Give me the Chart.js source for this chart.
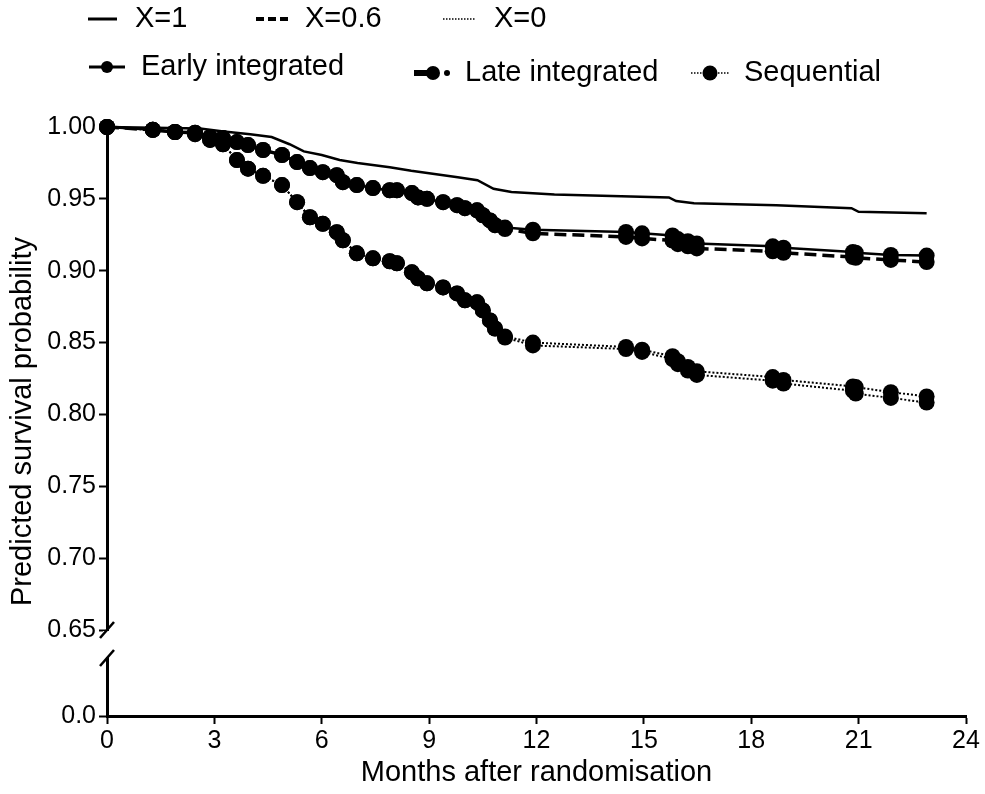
<!DOCTYPE html>
<html>
<head>
<meta charset="utf-8">
<script src="https://cdn.jsdelivr.net/npm/chart.js@4.4.1/dist/chart.umd.min.js"></script>
<style>
  html, body { margin: 0; padding: 0; background: #fff; }
  canvas { display: block; }
</style>
</head>
<body>
<canvas id="survChart" width="985" height="794"></canvas>
<script>
// X=1 curve (no markers)
const topMonths = [0, 1.3, 2.6, 3.2, 4.0, 4.6, 5.1, 5.5, 6.0, 6.5, 7.0, 7.9, 8.5, 9.8, 10.35, 10.8, 11.3, 12.5, 15.7, 15.9, 16.4, 18.7, 20.8, 21.0, 22.9];
const topSurv = [1.0, 0.9995, 0.999, 0.997, 0.995, 0.993, 0.988, 0.983, 0.9805, 0.977, 0.975, 0.972, 0.9695, 0.965, 0.963, 0.957, 0.9547, 0.953, 0.951, 0.9485, 0.947, 0.9455, 0.9435, 0.941, 0.940];

// times of the marked points, shared by the four marked curves
const months = [0, 1.28, 1.9, 2.46, 2.88, 3.24, 3.63, 3.94, 4.36, 4.89, 5.31, 5.67, 6.03, 6.42, 6.59, 6.98, 7.43, 7.9, 8.1, 8.52, 8.69, 8.94, 9.39, 9.78, 10.0, 10.34, 10.5, 10.7, 10.84, 11.12, 11.9, 14.5, 14.95, 15.8, 15.95, 16.23, 16.48, 18.6, 18.9, 20.84, 20.92, 21.9, 22.9];
const earlySurv = [1.0, 0.998, 0.9965, 0.996, 0.993, 0.9923, 0.9895, 0.9874, 0.984, 0.9805, 0.9756, 0.9714, 0.9686, 0.9665, 0.9616, 0.9596, 0.9575, 0.956, 0.956, 0.954, 0.951, 0.950, 0.9477, 0.9456, 0.9435, 0.942, 0.9386, 0.935, 0.9317, 0.930, 0.9285, 0.927, 0.926, 0.9245, 0.922, 0.9205, 0.919, 0.917, 0.916, 0.913, 0.9125, 0.911, 0.9105];
const lateSurv = [1.0, 0.998, 0.9965, 0.996, 0.993, 0.9923, 0.9895, 0.9874, 0.984, 0.9805, 0.9756, 0.9714, 0.9686, 0.9665, 0.9616, 0.9596, 0.9575, 0.956, 0.956, 0.954, 0.951, 0.950, 0.9477, 0.9456, 0.9435, 0.942, 0.9386, 0.935, 0.9317, 0.929, 0.926, 0.9235, 0.9225, 0.921, 0.9185, 0.917, 0.9155, 0.9135, 0.9125, 0.9095, 0.909, 0.9075, 0.906];
const seqSurvA = [1.0, 0.998, 0.9965, 0.995, 0.991, 0.988, 0.977, 0.971, 0.966, 0.9596, 0.9477, 0.9372, 0.9326, 0.9268, 0.9212, 0.9121, 0.9086, 0.9066, 0.9052, 0.8989, 0.8947, 0.8912, 0.8884, 0.8842, 0.8794, 0.878, 0.8724, 0.8654, 0.8598, 0.8543, 0.850, 0.847, 0.845, 0.8405, 0.837, 0.833, 0.830, 0.826, 0.824, 0.8195, 0.819, 0.8155, 0.8125];
const seqSurvB = [1.0, 0.998, 0.9965, 0.995, 0.991, 0.988, 0.977, 0.971, 0.966, 0.9596, 0.9477, 0.9372, 0.9326, 0.9268, 0.9212, 0.9121, 0.9086, 0.9066, 0.9052, 0.8989, 0.8947, 0.8912, 0.8884, 0.8842, 0.8794, 0.878, 0.8724, 0.8654, 0.8598, 0.8535, 0.848, 0.8455, 0.8435, 0.8385, 0.835, 0.8305, 0.8275, 0.8235, 0.8215, 0.8165, 0.8145, 0.8115, 0.8083];

const xTicks = [0, 3, 6, 9, 12, 15, 18, 21, 24];
const yTicks = [0.65, 0.70, 0.75, 0.80, 0.85, 0.90, 0.95, 1.00];
const yLowTicks = [0.0];

const FONT = "'Liberation Sans', Arial, sans-serif";

function pts(xs, ys) {
    return xs.map((x, i) => ({ x: x, y: ys[i] }));
}

// legend, y title and axis break, drawn on top
const extras = {
    id: 'extras',
    afterDraw(chart) {
        const ctx = chart.ctx;
        const xAxis = chart.scales.x.getPixelForValue(0);
        const yBreakTop = chart.scales.y.bottom;
        const yBreakBot = yBreakTop + 28;
        ctx.save();
        // gap in the axis
        ctx.fillStyle = '#fff';
        ctx.fillRect(xAxis - 4, yBreakTop + 1, 8, yBreakBot - yBreakTop - 2);
        ctx.strokeStyle = '#000';
        ctx.lineWidth = 2.5;
        [yBreakTop, yBreakBot].forEach(yy => {
            ctx.beginPath();
            ctx.moveTo(xAxis - 7, yy + 8);
            ctx.lineTo(xAxis + 7, yy - 8);
            ctx.stroke();
        });

        // y axis title, centred on the whole (broken) axis
        ctx.fillStyle = '#000';
        ctx.font = '29px ' + FONT;
        ctx.textAlign = 'center';
        ctx.textBaseline = 'middle';
        const area = chart.chartArea;
        ctx.save();
        ctx.translate(23, (area.top + area.bottom) / 2);
        ctx.rotate(-Math.PI / 2);
        ctx.fillText('Predicted survival probability', 0, 0);
        ctx.restore();

        // legend
        ctx.textAlign = 'left';
        function seg(x1, x2, y, w, dash) {
            ctx.beginPath();
            ctx.lineWidth = w;
            ctx.setLineDash(dash);
            ctx.moveTo(x1, y);
            ctx.lineTo(x2, y);
            ctx.stroke();
            ctx.setLineDash([]);
        }
        function dot(x, y, r) {
            ctx.beginPath();
            ctx.arc(x, y, r, 0, Math.PI * 2);
            ctx.fill();
        }
        const r1 = 19;
        seg(88, 117, r1, 3, []);
        ctx.fillText('X=1', 135, r1);
        seg(256, 289, r1, 4, [8, 4]);
        ctx.fillText('X=0.6', 305, r1);
        seg(443, 476, r1, 1.5, [1.5, 1.5]);
        ctx.fillText('X=0', 494, r1);

        const r2a = 67, r2b = 73;
        seg(89, 125, r2a, 3, []);
        dot(107, r2a, 6);
        ctx.fillText('Early integrated', 141, r2a);
        seg(414, 428, r2b, 6, []);
        dot(433, r2b, 7);
        dot(447, r2b, 3);
        ctx.fillText('Late integrated', 465, r2b);
        seg(691, 729, r2b, 1.5, [1.5, 1.5]);
        dot(710, r2b, 7.5);
        ctx.fillText('Sequential', 744, r2b);
        ctx.restore();
    }
};

const tickGrid = {
    display: true,
    drawOnChartArea: false,
    drawTicks: true,
    tickLength: 8,
    tickWidth: 2,
    tickColor: '#000'
};

const ctx = document.getElementById('survChart');
new Chart(ctx, {
    type: 'line',
    data: {
        datasets: [
            {
                label: 'X=1',
                data: pts(topMonths, topSurv),
                borderColor: '#000',
                borderWidth: 2.5,
                pointRadius: 0,
                yAxisID: 'y'
            },
            {
                label: 'Late integrated',
                data: pts(months, lateSurv),
                borderColor: '#000',
                borderWidth: 3.5,
                borderDash: [12, 6],
                pointRadius: 8,
                pointBackgroundColor: '#000',
                pointBorderWidth: 0,
                yAxisID: 'y'
            },
            {
                label: 'Early integrated',
                data: pts(months, earlySurv),
                borderColor: '#000',
                borderWidth: 2.5,
                pointRadius: 8,
                pointBackgroundColor: '#000',
                pointBorderWidth: 0,
                yAxisID: 'y'
            },
            {
                label: 'Sequential X=0.6',
                data: pts(months, seqSurvA),
                borderColor: '#000',
                borderWidth: 2,
                borderDash: [2, 2],
                pointRadius: 8,
                pointBackgroundColor: '#000',
                pointBorderWidth: 0,
                yAxisID: 'y'
            },
            {
                label: 'Sequential X=0',
                data: pts(months, seqSurvB),
                borderColor: '#000',
                borderWidth: 2,
                borderDash: [2, 2],
                pointRadius: 8,
                pointBackgroundColor: '#000',
                pointBorderWidth: 0,
                yAxisID: 'y'
            }
        ]
    },
    options: {
        responsive: false,
        animation: false,
        devicePixelRatio: 1,
        clip: false,
        layout: { padding: { top: 127, right: 19, left: 0, bottom: 0 } },
        plugins: {
            legend: { display: false },
            tooltip: { enabled: false }
        },
        elements: { line: { tension: 0 } },
        scales: {
            x: {
                type: 'linear',
                min: 0,
                max: 24,
                afterBuildTicks: (scale) => { scale.ticks = xTicks.map(v => ({ value: v })); },
                ticks: { color: '#000', font: { family: FONT, size: 25 }, padding: 2, maxRotation: 0 },
                grid: tickGrid,
                border: { display: true, color: '#000', width: 3 },
                title: {
                    display: true,
                    text: 'Months after randomisation',
                    color: '#000',
                    font: { family: FONT, size: 29 },
                    padding: { top: 0, bottom: 4 }
                },
                afterFit: (scale) => { scale.height = 78; }
            },
            // lower piece of the broken axis (declared first so it sits below)
            y0: {
                type: 'linear',
                position: 'left',
                stack: 'left',
                stackWeight: 86,
                min: 0,
                max: 0.06,
                afterBuildTicks: (scale) => { scale.ticks = yLowTicks.map(v => ({ value: v })); },
                ticks: {
                    color: '#000',
                    font: { family: FONT, size: 25 },
                    padding: 3,
                    callback: (v) => Number(v).toFixed(1)
                },
                grid: tickGrid,
                border: { display: true, color: '#000', width: 3 },
                afterFit: (scale) => { scale.width = 107; }
            },
            y: {
                type: 'linear',
                position: 'left',
                stack: 'left',
                stackWeight: 503,
                min: 0.65,
                max: 1.0,
                afterBuildTicks: (scale) => { scale.ticks = yTicks.map(v => ({ value: v })); },
                ticks: {
                    color: '#000',
                    font: { family: FONT, size: 25 },
                    padding: 3,
                    callback: (v) => Number(v).toFixed(2)
                },
                grid: tickGrid,
                border: { display: true, color: '#000', width: 3 },
                afterFit: (scale) => { scale.width = 107; }
            }
        }
    },
    plugins: [extras]
});
</script>
</body>
</html>
